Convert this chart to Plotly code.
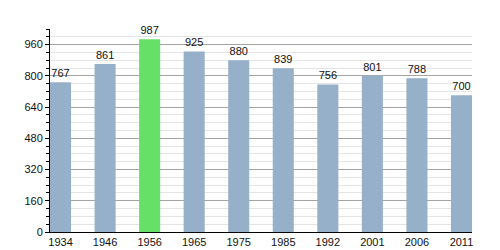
import plotly.graph_objects as go

years = ["1934", "1946", "1956", "1965", "1975", "1985", "1992", "2001", "2006", "2011"]
population = [767, 861, 987, 925, 880, 839, 756, 801, 788, 700]
highlight_year = "1956"

blue = "#97b0ca"
green = "#66e066"
colors = [green if y == highlight_year else blue for y in years]

fig = go.Figure(go.Bar(
    x=list(range(len(years))),
    y=population,
    marker=dict(color=colors, line=dict(width=0)),
    width=0.473,
    text=[str(v) for v in population],
    textposition="outside",
    textfont=dict(family="Liberation Sans, Arial, sans-serif", size=11, color="#111"),
    cliponaxis=False,
))

fig.update_layout(
    width=500, height=250,
    margin=dict(l=50, r=28, t=29, b=18, autoexpand=False),
    paper_bgcolor="white", plot_bgcolor="white",
    showlegend=False,
    font=dict(family="Liberation Sans, Arial, sans-serif", size=11, color="#111"),
)
fig.update_xaxes(
    range=[-0.2365, 9.2365], automargin=False,
    tickmode="array", tickvals=list(range(len(years))), ticktext=years,
    showline=True, linecolor="black", linewidth=1,
    showgrid=False, ticks="", zeroline=False,
    tickfont=dict(size=11), ticklabelstandoff=0,
)
fig.update_yaxes(
    range=[0, 1040], dtick=160, tick0=0, automargin=False,
    showline=True, linecolor="black", linewidth=1,
    showgrid=True, gridcolor="#a4a4a4", gridwidth=1,
    ticks="outside", ticklen=4, tickcolor="black",
    zeroline=False,
    minor=dict(dtick=40, showgrid=True, gridcolor="#e4e4e4", ticks="outside", ticklen=3, tickcolor="black"),
    tickfont=dict(size=11),
)

fig.write_html("out.html")
